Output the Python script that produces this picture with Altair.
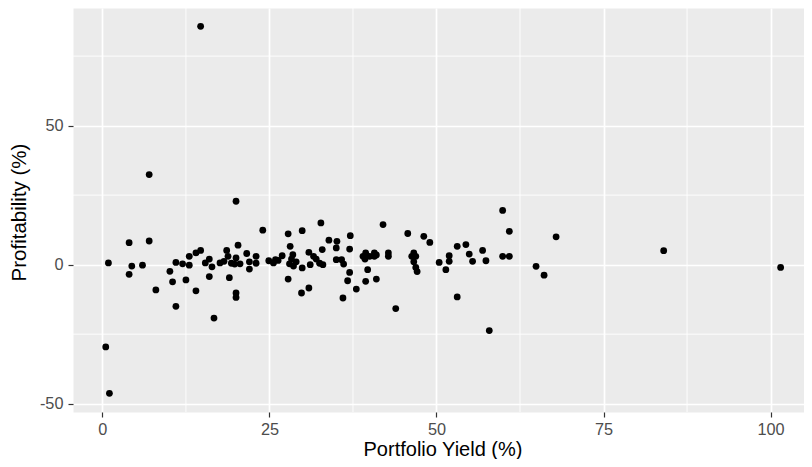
import altair as alt
import pandas as pd

# Portfolio yield (%) and profitability (%)
portfolio_yield = [
    0.5, 1.05, 0.9, 4.0, 4.4, 4.0, 6.0, 7.0, 7.0, 8.0,
    10.1, 10.5, 11.0, 11.0, 12.0, 12.5, 13.0, 13.0, 14.0, 14.7,
    14.0, 14.7, 15.4, 16.0, 16.4, 16.0, 16.7, 17.6, 18.2, 18.6,
    18.8, 19.0, 19.3, 19.8, 20.0, 20.3, 20.0, 20.0, 20.0, 20.6,
    21.6, 22.0, 22.0, 23.0, 23.0, 24.0, 24.9, 25.6, 25.9, 26.3,
    26.9, 27.8, 28.1, 27.8, 28.0, 28.3, 28.6, 28.5, 29.0, 29.9,
    29.9, 29.8, 30.9, 30.9, 31.1, 31.6, 32.0, 32.5, 32.7, 32.9,
    33.0, 33.9, 35.1, 35.0, 35.0, 35.8, 36.1, 37.1, 37.0, 37.0,
    36.7, 36.0, 38.0, 39.0, 39.4, 39.3, 40.0, 40.7, 41.0, 40.7,
    39.7, 39.4, 41.0, 42.0, 42.8, 42.8, 43.9, 45.7, 46.3, 46.6,
    46.9, 46.6, 46.9, 47.1, 48.1, 49.0, 50.4, 51.4, 51.9, 51.9,
    53.1, 53.1, 54.4, 54.9, 55.4, 56.9, 57.4, 57.9, 59.9, 60.9,
    59.9, 60.9, 64.9, 66.1, 67.9, 84.0, 101.5,
]
profitability = [
    -29.6, -46.3, 0.6, 7.9, -0.5, -3.5, -0.2, 32.4, 8.5, -9.1,
    -2.4, -6.2, -15.0, 0.8, 0.3, -5.5, -0.2, 3.0, 4.2, 5.1,
    -9.4, 85.7, 0.6, 2.0, -0.8, -4.3, -19.2, 0.6, 1.2, 5.1,
    3.0, -4.7, 0.5, 0.2, 22.8, 7.0, 2.4, -10.2, -11.8, 0.3,
    4.0, -1.6, 1.0, 3.0, 0.5, 12.4, 1.4, 0.6, 1.8, 1.5,
    3.2, 11.1, 6.6, -5.2, 0.3, 2.0, -0.5, 3.6, 1.0, 12.2,
    -1.2, -10.2, -8.4, 4.4, 0.0, 3.0, 2.0, 0.5, 15.0, 5.4,
    0.0, 8.8, 8.4, 6.0, 1.8, 1.8, 0.2, 10.4, 5.6, -2.8,
    -5.8, -12.0, -8.8, 3.0, 4.2, 2.0, 3.0, 4.2, 3.5, 3.0,
    -1.8, -6.0, -5.2, 14.4, 4.2, 3.0, -15.8, 11.2, 3.0, 4.2,
    3.0, 1.0, -1.0, -2.5, 10.2, 8.0, 0.8, -1.8, 3.2, 1.2,
    6.6, -11.6, 7.2, 3.8, 1.2, 5.1, 1.4, -23.7, 19.5, 12.0,
    3.0, 3.0, -0.6, -3.8, 10.0, 5.0, -1.0,
]

x_ticks = [0, 25, 50, 75, 100]
y_ticks = [-50, 0, 50]
x_minor = [12.5, 37.5, 62.5, 87.5]
y_minor = [-25, 25, 75]

df = pd.DataFrame({"yield": portfolio_yield, "profit": profitability})

W, H = 731, 404
FONT = "Liberation Sans"
xs = alt.Scale(domain=[-4.4, 105.0], nice=False, zero=False)
ys = alt.Scale(domain=[-53.0, 92.3], nice=False, zero=False)

x_title = "Portfolio Yield (%)"
y_title = "Profitability (%)"

x_axis = alt.Axis(
    values=x_ticks, grid=True, gridColor="white", gridWidth=1.7,
    domain=False, tickColor="#333333", tickSize=5, tickWidth=1.2,
    labelColor="#4D4D4D", labelFont=FONT, labelFontSize=16.3,
    labelPadding=4, labelExpr="datum.value",
    titleFont=FONT, titleFontSize=20,
    titleFontWeight="normal", titleColor="black",
    titleX=W / 2 + 4, titleY=43, titleBaseline="alphabetic",
    titleAnchor="middle", titleAlign="center",
)
y_axis = alt.Axis(
    values=y_ticks, grid=True, gridColor="white", gridWidth=1.7,
    domain=False, tickColor="#333333", tickSize=5, tickWidth=1.2,
    labelColor="#4D4D4D", labelFont=FONT, labelFontSize=16.3,
    labelPadding=5, labelExpr="datum.value",
    titleFont=FONT, titleFontSize=20.5,
    titleFontWeight="normal", titleColor="black",
    titleAngle=270, titleX=-48, titleY=204,
    titleBaseline="alphabetic", titleAlign="center",
)

xminor = alt.Chart(pd.DataFrame({"v": x_minor})).mark_rule(
    color="white", strokeWidth=0.9
).encode(x=alt.X("v:Q", scale=xs, axis=x_axis, title=x_title))

yminor = alt.Chart(pd.DataFrame({"v": y_minor})).mark_rule(
    color="white", strokeWidth=0.9
).encode(y=alt.Y("v:Q", scale=ys, axis=y_axis, title=y_title))

points = alt.Chart(df).mark_circle(size=46, color="black", opacity=1).encode(
    x=alt.X("yield:Q", scale=xs, title=x_title, axis=x_axis),
    y=alt.Y("profit:Q", scale=ys, title=y_title, axis=y_axis),
)

chart = alt.layer(xminor, yminor, points).properties(
    width=W,
    height=H,
    autosize=alt.AutoSizeParams(type="none"),
    padding={"left": 65, "top": 0, "right": 0, "bottom": 47},
    background="white",
).configure_view(fill="#EBEBEB", stroke="transparent")

chart.save("out.html", embed_options={"renderer": "svg", "actions": False})
